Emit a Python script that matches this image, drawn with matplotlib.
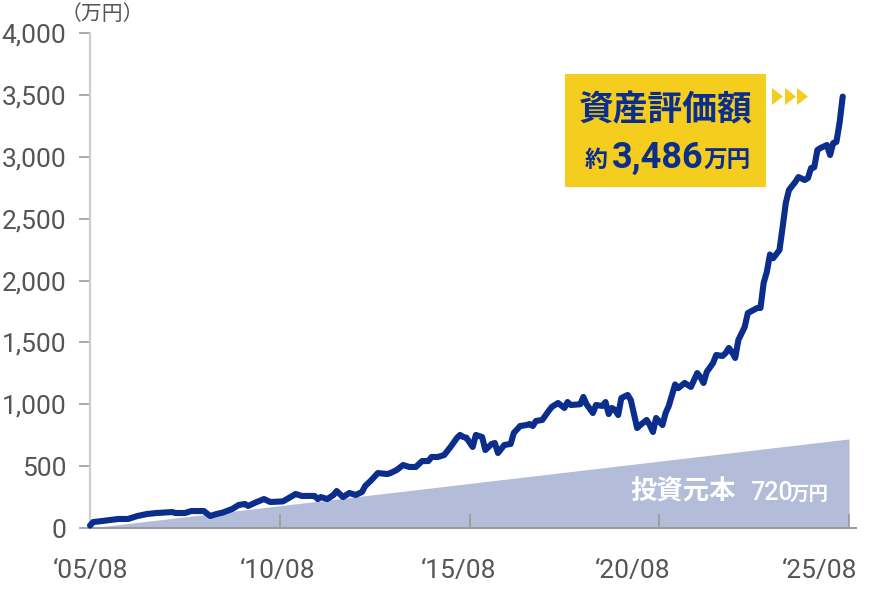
import matplotlib
matplotlib.use("Agg")
import matplotlib.pyplot as plt
from matplotlib.patches import Polygon, Rectangle
from matplotlib.ticker import FuncFormatter

# ---- data (months since 2005/08, values in 万円) ----
months = [0, 1, 4, 9, 12, 15, 18, 21, 26, 27, 30, 32, 36, 38, 40, 42, 45, 47, 49, 50,
          52, 55, 57, 61, 64, 65, 67, 71, 72, 73, 75, 77, 78, 80, 82, 84, 86, 87, 89, 91,
          94, 95, 97, 99, 101, 103, 105, 107, 108, 110, 112, 114, 116, 117, 118, 119, 121, 122, 124, 125,
          127, 128, 129, 131, 133, 134, 136, 138, 139, 140, 141, 143, 145, 146, 148, 150, 151, 152, 155, 156,
          157, 159, 160, 162, 163, 164, 165, 166, 167, 168, 170, 171, 173, 174, 176, 177, 178, 179, 181, 182,
          183, 185, 186, 188, 190, 192, 193, 194, 195, 197, 198, 200, 201, 202, 203, 204, 205, 207, 208, 211,
          212, 213, 214, 215, 216, 218, 219, 220, 221, 223, 224, 226, 227, 228, 229, 230, 231, 233, 234, 235,
          236, 237, 238]
values = [20, 48, 57, 73, 73, 97, 113, 121, 129, 121, 121, 137, 137, 97, 113, 125, 154, 186, 194, 178,
          202, 234, 210, 215, 259, 275, 259, 259, 234, 250, 234, 267, 299, 250, 283, 267, 291, 339, 388, 444,
          436, 444, 469, 509, 493, 493, 541, 541, 574, 574, 590, 655, 727, 752, 736, 730, 655, 752, 735, 630,
          679, 687, 606, 671, 679, 768, 824, 832, 840, 824, 865, 873, 945, 978, 1010, 970, 1018, 994, 1000, 1059,
          1000, 929, 994, 986, 1018, 921, 970, 954, 913, 1050, 1075, 1034, 808, 832, 873, 832, 776, 889, 832, 929,
          986, 1160, 1130, 1172, 1140, 1252, 1220, 1172, 1261, 1333, 1398, 1390, 1414, 1455, 1420, 1374, 1519, 1624, 1737, 1778,
          1778, 1980, 2069, 2210, 2180, 2246, 2432, 2626, 2731, 2796, 2836, 2812, 2828, 2909, 2915, 3055, 3071, 3095, 3014, 3111,
          3119, 3273, 3486]

principal_months = [0, 240]
principal_values = [0, 720]

xtick_months = [0, 60, 120, 180, 240]
xtick_labels = ["\u201805/08", "\u201810/08", "\u201815/08", "\u201820/08", "\u201825/08"]
yticks = [0, 500, 1000, 1500, 2000, 2500, 3000, 3500, 4000]

unit_label = "（万円）"
box_title = "資産評価額"
box_prefix = "約"
box_number = "3,486"
box_unit = "万円"
principal_label = "投資元本"
principal_amount = "720"
principal_unit = "万円"

# ---- layout: where the x labels sit (the reference does not centre them on ticks) ----
xlabel_pos = [0.3, 59.4, 116.4, 171.4, 230.8]

# ---- style ----
NAVY = "#0B2D8C"
FILL = "#B3BDDA"
YELLOW = "#F4CD1E"
GRAY_TXT = "#555555"

W, H = 889, 589
fig = plt.figure(figsize=(W / 100, H / 100), dpi=100)
fig.patch.set_facecolor("white")

def fx(px):
    return px / W

def fy(py):
    return 1 - py / H

ax = fig.add_axes([fx(90), fy(528), fx(856) - fx(90), fy(33) - fy(528)])
ax.set_xlim(0, 242.2)
ax.set_ylim(0, 4000)

ax.fill_between(principal_months, 0, principal_values, color=FILL, lw=0, zorder=1)
ax.plot(months, values, color=NAVY, lw=4.4, solid_joinstyle="round",
        solid_capstyle="round", zorder=3, clip_on=False)

for s in ["top", "right"]:
    ax.spines[s].set_visible(False)
ax.spines["left"].set_color("#cccccc")
ax.spines["left"].set_linewidth(1.6)
ax.spines["bottom"].set_color("#999999")
ax.spines["bottom"].set_linewidth(1.4)

ax.set_yticks(yticks)
ax.yaxis.set_major_formatter(FuncFormatter(lambda v, p: f"{int(v):,}"))
ax.tick_params(axis="y", direction="out", length=8, width=1.4, color="#aaaaaa",
               pad=9, labelsize=19, labelcolor=GRAY_TXT)
for lab in ax.get_yticklabels():
    lab.set_family(["Roboto", "DejaVu Sans"])

ax.set_xticks(xtick_months)
ax.set_xticklabels([""] * len(xtick_months))
ax.tick_params(axis="x", which="major", direction="in", length=10, width=1.2, color="#999999")
ax.set_xticks(xlabel_pos, minor=True)
ax.set_xticklabels(xtick_labels, minor=True)
ax.tick_params(axis="x", which="minor", direction="in", length=0, pad=22,
               labelsize=19, labelcolor=GRAY_TXT)
for lab in ax.get_xticklabels(minor=True):
    lab.set_family(["Roboto", "DejaVu Sans"])

fig.text(fx(61), fy(14), unit_label, ha="left", va="center", fontsize=15,
         color=GRAY_TXT, family=["Noto Sans CJK JP", "DejaVu Sans"])

# yellow callout box
fig.add_artist(Rectangle((fx(565), fy(187)), fx(766) - fx(565), fy(74) - fy(187),
                         transform=fig.transFigure, facecolor=YELLOW, edgecolor="none"))
fig.text(fx(666), fy(120), box_title, ha="center", va="baseline", fontsize=25,
         fontweight="bold", color=NAVY, family=["Noto Sans CJK JP"])
fig.text(fx(585), fy(167), box_prefix, ha="left", va="baseline", fontsize=16.5,
         fontweight="bold", color=NAVY, family=["Noto Sans CJK JP"])
fig.text(fx(612), fy(168), box_number, ha="left", va="baseline", fontsize=26,
         fontweight="bold", color=NAVY, family=["Roboto"])
fig.text(fx(704), fy(168), box_unit, ha="left", va="baseline", fontsize=17,
         fontweight="bold", color=NAVY, family=["Noto Sans CJK JP"])

# small arrowheads
for x0 in [772, 785, 797]:
    tri = Polygon([(fx(x0), fy(88)), (fx(x0), fy(105)), (fx(x0 + 11), fy(96.5))],
                  closed=True, transform=fig.transFigure, facecolor=YELLOW, edgecolor="none")
    fig.add_artist(tri)

# principal label
fig.text(fx(630), fy(500), principal_label, ha="left", va="baseline", fontsize=19,
         fontweight="bold", color="white", family=["Noto Sans CJK JP"])
fig.text(fx(750), fy(500), principal_amount, ha="left", va="baseline", fontsize=18,
         fontweight="medium", color="white", family=["Roboto"])
fig.text(fx(790), fy(500), principal_unit, ha="left", va="baseline", fontsize=14,
         fontweight="bold", color="white", family=["Noto Sans CJK JP"])

fig.savefig("out.png", dpi=100)
